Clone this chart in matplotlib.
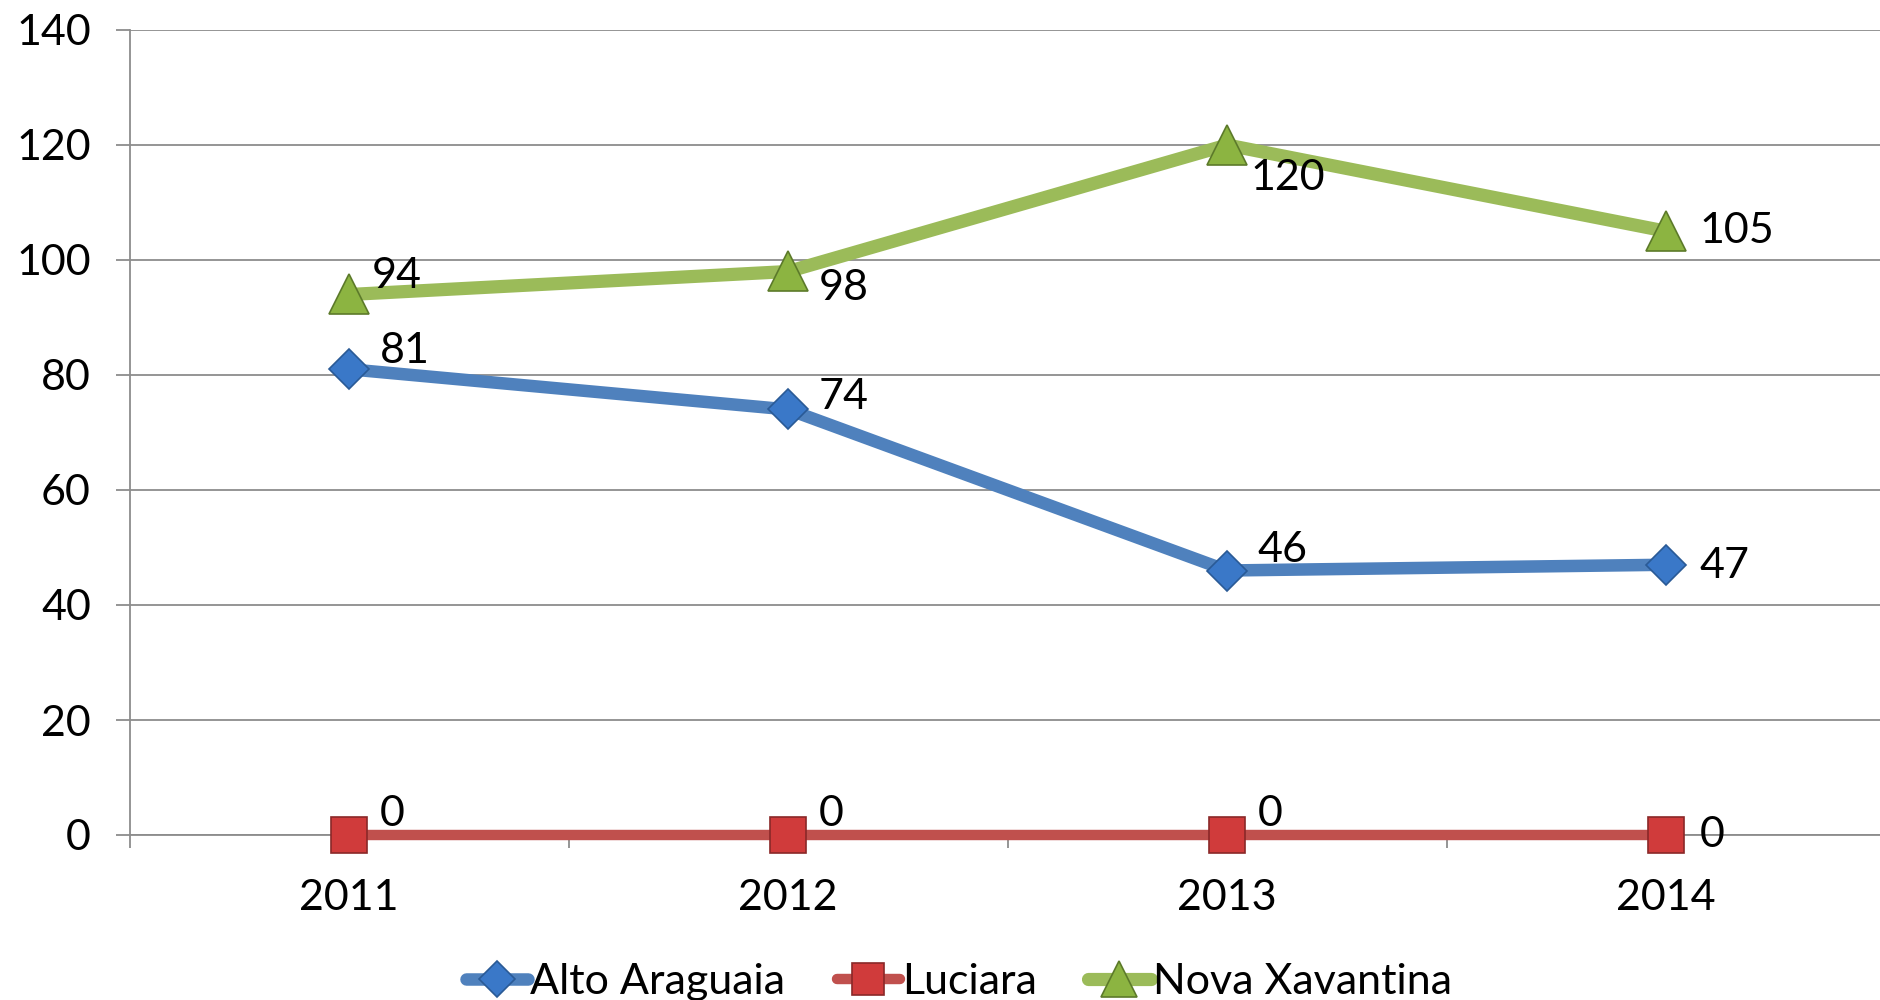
import matplotlib
matplotlib.use("Agg")
import matplotlib.pyplot as plt
from matplotlib.ticker import FixedLocator

plt.rcParams['font.family'] = ['Lato', 'DejaVu Sans']

years = ["2011", "2012", "2013", "2014"]
alto_araguaia = [81, 74, 46, 47]
luciara = [0, 0, 0, 0]
nova_xavantina = [94, 98, 120, 105]
series_names = ["Alto Araguaia", "Luciara", "Nova Xavantina"]
y_ticks = [0, 20, 40, 60, 80, 100, 120, 140]

# label offsets (points) -- styling
off_alto = [(22, 13), (22, 9), (22, 15), (24, -1)]
off_luc = [(22, 15), (22, 15), (22, 15), (24, 0)]
off_nova = [(16, 13), (22, -12), (17, -24), (24, 0)]

FS = 31

fig = plt.figure(figsize=(18.8, 10), dpi=100)
ax = fig.add_axes([0.069, 0.165, 0.934, 0.805])

x = list(range(len(years)))
styles = [
    (alto_araguaia, "#4F81BD", "D", "#3A78C8", "#2A5A96", 20, 9.0, off_alto),
    (luciara, "#C0504D", "s", "#D03B3B", "#8A2828", 26, 7.5, off_luc),
    (nova_xavantina, "#9BBB59", "^", "#8CB441", "#5C7A2A", 29, 9.5, off_nova),
]
handles = []
for (vals, lc, mk, mfc, mec, ms, lw, offs), name in zip(styles, series_names):
    h, = ax.plot(x, vals, color=lc, linewidth=lw, marker=mk, markersize=ms,
                 markerfacecolor=mfc, markeredgecolor=mec, markeredgewidth=1.2,
                 solid_capstyle='round', label=name, zorder=3, clip_on=False)
    handles.append(h)
    for xi, v, o in zip(x, vals, offs):
        ax.annotate(str(v), xy=(xi, v), xytext=o, textcoords='offset points',
                    ha='left', va='center', fontsize=FS, color='black', zorder=4)

ax.set_xlim(-0.5, 3.5)
ax.set_ylim(0, 140)
ax.set_yticks(y_ticks)
ax.set_xticks(x)
ax.set_xticklabels(years)
ax.xaxis.set_minor_locator(FixedLocator([-0.5, 0.5, 1.5, 2.5, 3.5]))
ax.grid(axis='y', color='#8C8C8C', linewidth=1.3, zorder=0)
ax.set_axisbelow(True)
for s in ['top', 'right']:
    ax.spines[s].set_visible(False)
for s in ['left', 'bottom']:
    ax.spines[s].set_color('#8C8C8C')
    ax.spines[s].set_linewidth(1.3)
ax.tick_params(axis='y', length=10, width=1.3, color='#8C8C8C', labelsize=FS, pad=18)
ax.tick_params(axis='x', which='major', length=0, labelsize=FS, pad=32)
ax.tick_params(axis='x', which='minor', length=9, width=1.3, color='#8C8C8C')

fig.legend(handles=handles, loc='center', bbox_to_anchor=(0.51, 0.018), ncol=3,
           frameon=False, fontsize=FS, handlelength=1.45, handletextpad=0.05,
           columnspacing=1.2, markerscale=0.9)

fig.savefig("out.png", dpi=100)
